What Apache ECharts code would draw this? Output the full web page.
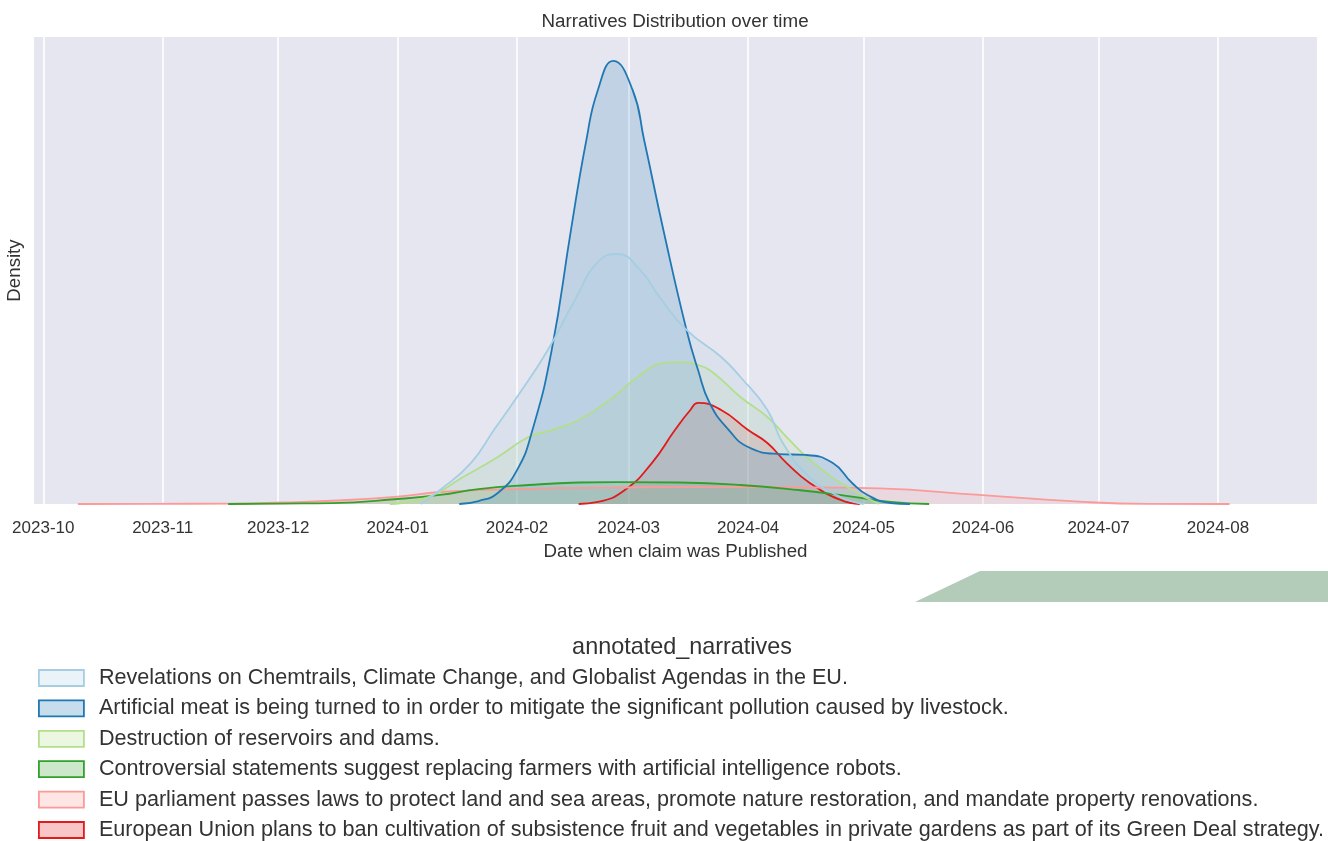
<!DOCTYPE html>
<html>
<head>
<meta charset="utf-8">
<title>Narratives Distribution over time</title>
<script src="https://cdn.jsdelivr.net/npm/echarts/dist/echarts.min.js"></script>
<style>
  html, body { margin: 0; padding: 0; background: #ffffff; }
  #main { width: 1328px; height: 841px; }
</style>
</head>
<body>
<div id="main"></div>
<script>
// narratives (hue order)
var narratives = [
  "Revelations on Chemtrails, Climate Change, and Globalist Agendas in the EU.",
  "Artificial meat is being turned to in order to mitigate the significant pollution caused by livestock.",
  "Destruction of reservoirs and dams.",
  "Controversial statements suggest replacing farmers with artificial intelligence robots.",
  "EU parliament passes laws to protect land and sea areas, promote nature restoration, and mandate property renovations.",
  "European Union plans to ban cultivation of subsistence fruit and vegetables in private gardens as part of its Green Deal strategy."
];

var lineColors = ["#a6cee3", "#1f78b4", "#b2df8a", "#33a02c", "#fb9a99", "#e31a1c"];

// month ticks
var tickMonths = ["2023-10-01", "2023-11-01", "2023-12-01", "2024-01-01", "2024-02-01", "2024-03-01",
  "2024-04-01", "2024-05-01", "2024-06-01", "2024-07-01", "2024-08-01"];

// kde curves
var chemtrailsDates = ["2024-01-07", "2024-01-12", "2024-01-20", "2024-01-26", "2024-02-01", "2024-02-09", "2024-02-16",
  "2024-02-22", "2024-02-27", "2024-03-04", "2024-03-09", "2024-03-16", "2024-03-25", "2024-03-30", "2024-04-06",
  "2024-04-10", "2024-04-17", "2024-04-25", "2024-05-01"];
var chemtrailsDensity = [0, 0.00090, 0.00263, 0.00475, 0.00687, 0.00989, 0.01310,
  0.01555, 0.01606, 0.01503, 0.01330, 0.01118, 0.00944, 0.00816, 0.00604,
  0.00392, 0.00173, 0.00045, 0];

var meatDates = ["2024-01-17", "2024-01-22", "2024-01-27", "2024-02-01", "2024-02-05", "2024-02-10", "2024-02-15",
  "2024-02-19", "2024-02-22", "2024-02-26", "2024-03-02", "2024-03-05", "2024-03-10", "2024-03-16", "2024-03-19",
  "2024-03-22", "2024-03-27", "2024-04-01", "2024-04-09", "2024-04-16", "2024-04-23", "2024-04-28", "2024-05-02",
  "2024-05-08", "2024-05-13"];
var meatDensity = [0, 0.00019, 0.00071, 0.00218, 0.00475, 0.00989, 0.01760,
  0.02338, 0.02660, 0.02846, 0.02660, 0.02338, 0.01760, 0.01118, 0.00861,
  0.00649, 0.00475, 0.00366, 0.00321, 0.00315, 0.00263, 0.00135, 0.00058,
  0.00006, 0];

var damsDates = ["2023-12-30", "2024-01-09", "2024-01-18", "2024-01-27", "2024-02-04", "2024-02-10", "2024-02-17",
  "2024-02-25", "2024-03-04", "2024-03-10", "2024-03-14", "2024-03-19", "2024-03-23", "2024-03-30", "2024-04-06",
  "2024-04-11", "2024-04-18", "2024-04-28", "2024-05-05"];
var damsDensity = [0, 0.00045, 0.00173, 0.00302, 0.00430, 0.00475, 0.00540,
  0.00668, 0.00829, 0.00906, 0.00912, 0.00893, 0.00842, 0.00687, 0.00559,
  0.00430, 0.00263, 0.00090, 0];

var robotsDates = ["2023-11-18", "2023-12-02", "2023-12-15", "2024-01-01", "2024-01-12", "2024-01-22", "2024-02-04",
  "2024-02-17", "2024-02-27", "2024-03-14", "2024-03-30", "2024-04-14", "2024-04-27", "2024-05-08", "2024-05-18"];
var robotsDensity = [0, 0.00003, 0.00006, 0.00032, 0.00058, 0.00096, 0.00122,
  0.00138, 0.00141, 0.00138, 0.00122, 0.00090, 0.00051, 0.00013, 0];

var lawsDates = ["2023-10-10", "2023-10-28", "2023-11-19", "2023-12-02", "2023-12-15", "2024-01-01", "2024-01-12",
  "2024-02-01", "2024-02-27", "2024-03-25", "2024-04-19", "2024-05-05", "2024-05-31", "2024-06-26", "2024-07-14",
  "2024-08-04"];
var lawsDensity = [0, 0.00001, 0.00003, 0.00010, 0.00021, 0.00047, 0.00077,
  0.00096, 0.00106, 0.00109, 0.00106, 0.00100, 0.00058, 0.00015, 0.00001,
  0];

var gardensDates = ["2024-02-17", "2024-02-22", "2024-02-29", "2024-03-07", "2024-03-13", "2024-03-17", "2024-03-19",
  "2024-03-25", "2024-04-01", "2024-04-06", "2024-04-11", "2024-04-17", "2024-04-25", "2024-04-30"];
var gardensDensity = [0, 0.00013, 0.00090, 0.00263, 0.00475, 0.00604, 0.00649,
  0.00604, 0.00475, 0.00392, 0.00263, 0.00135, 0.00026, 0];

var allDates = [chemtrailsDates, meatDates, damsDates, robotsDates, lawsDates, gardensDates];
var allDensity = [chemtrailsDensity, meatDensity, damsDensity, robotsDensity, lawsDensity, gardensDensity];

var xMinDate = "2023-09-28T14:00:00Z";
var xMaxDate = "2024-08-26T17:00:00Z";
var densityMax = 0.030;

function toTime(s) {
  if (s.length == 10) s = s + "T00:00:00Z";
  return new Date(s).getTime();
}

function pad2(n) { return n < 10 ? "0" + n : "" + n; }

function hexToRgba(hex, a) {
  var r = parseInt(hex.substr(1, 2), 16), g = parseInt(hex.substr(3, 2), 16), b = parseInt(hex.substr(5, 2), 16);
  return "rgba(" + r + "," + g + "," + b + "," + a + ")";
}

//seaborn draws the hues in reverse, so the first one ends up on top
function build_series() {
  var arr = [];
  for (var i = narratives.length - 1; i >= 0; i--) {
    var pts = [];
    for (var j = 0; j < allDates[i].length; j++) {
      pts.push([toTime(allDates[i][j]), allDensity[i][j]]);
    }
    arr.push({
      name: narratives[i],
      type: "line",
      data: pts,
      smooth: 0.5,
      showSymbol: false,
      symbol: "none",
      clip: true,
      lineStyle: { color: lineColors[i], width: 1.8 },
      itemStyle: { color: lineColors[i] },
      areaStyle: { color: hexToRgba(lineColors[i], 0.25), origin: "start" },
      emphasis: { disabled: true }
    });
  }
  return arr;
}

function build_legend() {
  var arr = [];
  for (var i = 0; i < narratives.length; i++) {
    arr.push({
      name: narratives[i],
      itemStyle: { color: hexToRgba(lineColors[i], 0.25), borderColor: lineColors[i], borderWidth: 1.8 }
    });
  }
  return arr;
}

var tickValues = tickMonths.map(toTime);
var fontFamily = "'Liberation Sans', Arial, sans-serif";

var myChart = echarts.init(document.getElementById("main"), null, { renderer: "canvas" });

var option = {
  backgroundColor: "#ffffff",
  animation: false,
  textStyle: { fontFamily: fontFamily },
  grid: {
    left: 34, right: 11, top: 37, bottom: 337,
    outerBoundsMode: "none", containLabel: false,
    show: true, backgroundColor: "#e6e6f0", borderWidth: 0
  },
  xAxis: {
    type: "value",
    min: toTime(xMinDate),
    max: toTime(xMaxDate),
    name: "Date when claim was Published",
    nameLocation: "middle",
    nameGap: 36,
    nameTextStyle: { fontSize: 18.7, color: "#333333", fontFamily: fontFamily, verticalAlign: "top" },
    axisLine: { show: false },
    axisTick: { show: false, customValues: tickValues },
    axisLabel: {
      customValues: tickValues,
      fontSize: 17,
      color: "#333333",
      margin: 16,
      fontFamily: fontFamily,
      formatter: function (v) {
        var d = new Date(v);
        return d.getUTCFullYear() + "-" + pad2(d.getUTCMonth() + 1);
      }
    },
    splitLine: { show: true, lineStyle: { color: "#ffffff", width: 1.6 } }
  },
  yAxis: {
    type: "value",
    min: 0,
    max: densityMax,
    name: "Density",
    nameLocation: "middle",
    nameGap: 10,
    nameRotate: 90,
    nameTextStyle: { fontSize: 18.7, color: "#333333", fontFamily: fontFamily },
    axisLine: { show: false },
    axisTick: { show: false },
    axisLabel: { show: false },
    splitLine: { show: false }
  },
  legend: {
    orient: "vertical",
    left: 38,
    top: 667,
    height: 220,
    padding: 0,
    icon: "rect",
    itemWidth: 45,
    itemHeight: 16,
    itemGap: 8.4,
    selectedMode: false,
    textStyle: { fontSize: 21.6, color: "#333333", fontFamily: fontFamily, padding: [0, 0, 0, 10] },
    data: build_legend()
  },
  graphic: [
    {
      type: "text",
      x: 675,
      y: 22,
      style: { text: "Narratives Distribution over time", fontSize: 18.8, fill: "#333333", fontFamily: fontFamily, align: "center", verticalAlign: "middle" }
    },
    {
      type: "text",
      x: 682,
      y: 648,
      style: { text: "annotated_narratives", fontSize: 23.4, fill: "#333333", fontFamily: fontFamily, align: "center", verticalAlign: "middle" }
    },
    {
      // decorative band at the right
      type: "polygon",
      shape: { points: [[915, 602], [980, 571], [1328, 571], [1328, 602]] },
      style: { fill: "#b3cbb9" },
      silent: true
    }
  ],
  series: build_series()
};

myChart.setOption(option);
</script>
</body>
</html>
